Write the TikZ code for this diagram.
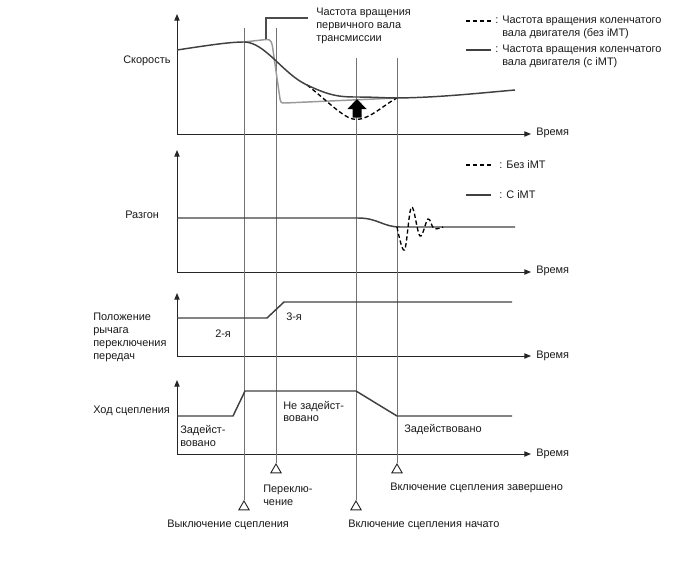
\documentclass[tikz,border=0pt]{standalone}
\usepackage{fontspec}
\setmainfont{Liberation Sans}
\usetikzlibrary{arrows.meta,shapes.geometric}
\begin{document}
\begin{tikzpicture}[x=0.75pt,y=-0.75pt,
  lbl/.style={font=\fontsize{8.2}{9.7}\selectfont, inner sep=0pt, anchor=west, align=left, text=black!90},
  axis/.style={draw=black!85, line width=0.75pt, -{Triangle[length=5pt,width=4pt]}},
  guide/.style={draw=black!55, line width=0.55pt},
  curve/.style={draw=black!75, line width=1.1pt},
  trans/.style={draw=black!40, line width=1.1pt},
  nomt/.style={draw=black, line width=1pt, dash pattern=on 3.2pt off 2pt},
  evtri/.style={regular polygon, regular polygon sides=3, draw=black!85, line width=0.7pt, minimum size=9pt, inner sep=0pt, anchor=north},
]
\useasboundingbox (0,0) rectangle (688,560);

% ---------- axes ----------
\coordinate (o1) at (177,134); \coordinate (y1) at (177,14);  \coordinate (x1) at (531,134);
\coordinate (o2) at (177,272); \coordinate (y2) at (177,150); \coordinate (x2) at (531,272);
\coordinate (o3) at (177,356); \coordinate (y3) at (177,293); \coordinate (x3) at (531,356);
\coordinate (o4) at (177,454); \coordinate (y4) at (177,380); \coordinate (x4) at (531,454);
\foreach \i in {1,2,3,4}{
  \draw[axis] (o\i) -- (y\i);
  \draw[axis] (o\i) -- (x\i);
}
\node[lbl] (t1) at (536,133) {Время};
\node[lbl] (t2) at (536,271) {Время};
\node[lbl] (t3) at (536,356) {Время};
\node[lbl] (t4) at (536,454) {Время};

% ---------- left labels ----------
\node[lbl] (lv) at (123,61) {Скорость};
\node[lbl] (la) at (125,215) {Разгон};
\node[lbl] (lg) at (93,337.5) {Положение\\рычага\\переключения\\передач};
\node[lbl] (lc) at (93,411) {Ход сцепления};

% ---------- event lines and markers ----------
\node[evtri] (m1) at (244,500) {};
\node[evtri] (m2) at (276,463) {};
\node[evtri] (m3) at (356,500) {};
\node[evtri] (m4) at (397,463) {};
\coordinate (g1) at (244,28);
\coordinate (g2) at (276,28);
\coordinate (g3) at (356,58);
\coordinate (g4) at (397,58);
\foreach \i in {1,2,3,4}{ \draw[guide] (g\i) -- (m\i.north); }

\node[lbl] (e1) at (167,525) {Выключение сцепления};
\node[lbl] (e2) at (263,495) {Переклю-\\чение};
\node[lbl] (e3) at (348,525) {Включение сцепления начато};
\node[lbl] (e4) at (390,488) {Включение сцепления завершено};

% ---------- panel 1: speed ----------
\draw[trans] (244,42) -- (266,39.5) .. controls (271,39) and (272,42) .. (273,50)
  -- (280,99) .. controls (281,103) .. (285,103) -- (397,98);
\draw[nomt] (307,85) .. controls (330,103) and (345,120) .. (357,119.5)
  .. controls (370,119) and (385,104) .. (397,98);
\draw[curve] (177,50) .. controls (210,45) and (230,42) .. (244,42)
  .. controls (265,42) and (283,74) .. (307,85)
  .. controls (330,96) and (340,97) .. (356,97)
  .. controls (375,97) and (385,98) .. (397,98)
  .. controls (440,97.5) and (480,93) .. (515,90);
\fill[black] (357,99) -- (366.5,109) -- (361.5,109) -- (361.5,117.5) -- (352.5,117.5)
  -- (352.5,109) -- (347.5,109) -- cycle;

% transmission input shaft label with leader
\coordinate (ld0) at (266,39.5);
\coordinate (ld1) at (266,18);
\node[lbl] (tr) at (316,26) {Частота вращения\\первичного вала\\трансмиссии};
\draw[draw=black!70, line width=0.9pt] (ld0) -- (ld1) -- (308,18);

% legend 1
\coordinate (lg1a) at (466,21); \coordinate (lg1b) at (491,21);
\coordinate (lg2a) at (466,50); \coordinate (lg2b) at (491,50);
\draw[nomt] (lg1a) -- (lg1b);
\draw[curve] (lg2a) -- (lg2b);
\node[lbl] (lt1) at (495,21) {: Частота вращения коленчатого};
\node[lbl] (lt1b) at (502,34) {вала двигателя (без iMT)};
\node[lbl] (lt2) at (495,50) {: Частота вращения коленчатого};
\node[lbl] (lt2b) at (502,63) {вала двигателя (с iMT)};

% ---------- panel 2: acceleration ----------
\draw[curve] (177,218) -- (358,218) .. controls (378,218) and (383,227) .. (400,227) -- (515,227);
\draw[nomt] plot[smooth, tension=0.6] coordinates {(397,227) (404.5,250) (411.5,207) (420,236) (428,219) (434,228.5) (443,227)};
\coordinate (lg3a) at (466,165); \coordinate (lg3b) at (491,165);
\coordinate (lg4a) at (466,195); \coordinate (lg4b) at (491,195);
\draw[nomt] (lg3a) -- (lg3b);
\draw[curve] (lg4a) -- (lg4b);
\node[lbl] (lt3) at (499,165) {: Без iMT};
\node[lbl] (lt4) at (499,195) {: С iMT};

% ---------- panel 3: gear lever ----------
\draw[curve] (177,318) -- (267,318) -- (284,302) -- (512,302);
\node[lbl] (gr2) at (215,334) {2-я};
\node[lbl] (gr3) at (286,317) {3-я};

% ---------- panel 4: clutch stroke ----------
\draw[curve] (177,416) -- (233,416) -- (245,391) -- (356,391) -- (397,416) -- (512,416);
\node[lbl] (c1) at (180,436) {Задейст-\\вовано};
\node[lbl] (c2) at (283,411.5) {Не задейст-\\вовано};
\node[lbl] (c3) at (404,430) {Задействовано};
\end{tikzpicture}
\end{document}
